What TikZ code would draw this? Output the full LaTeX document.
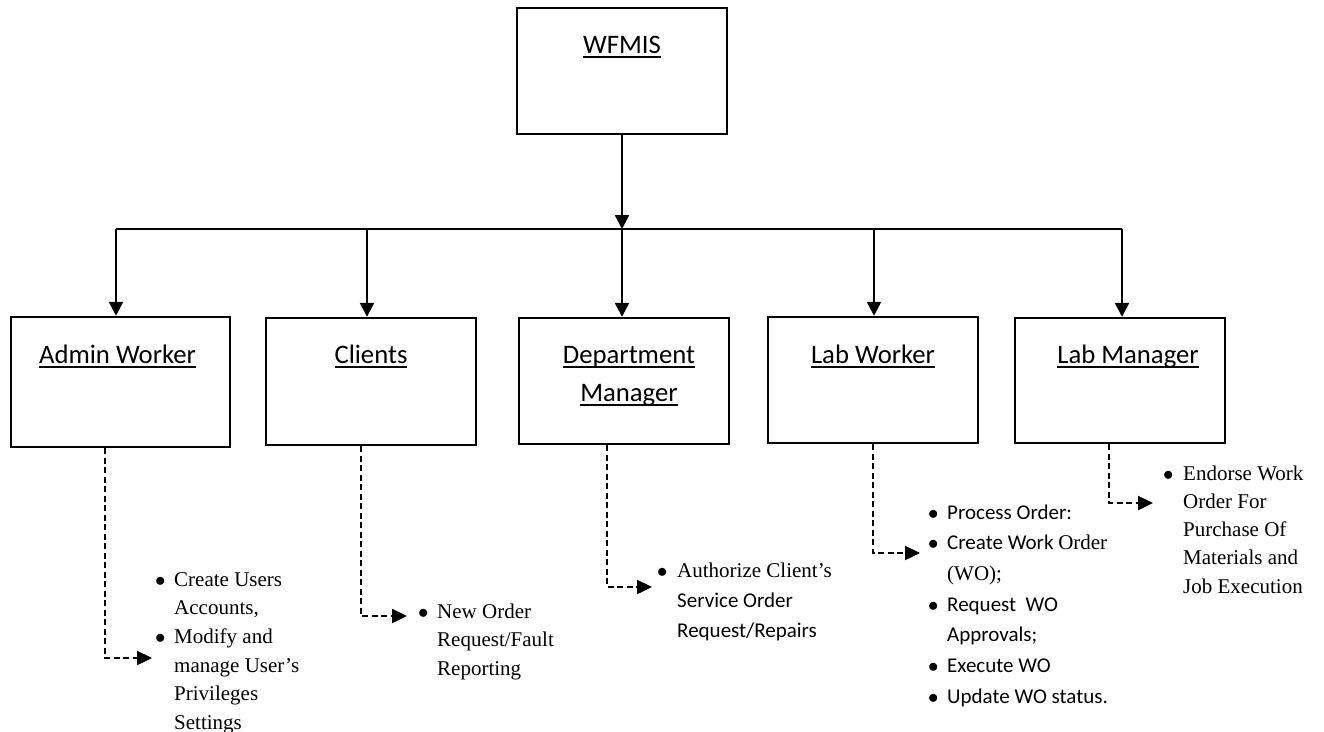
\documentclass[tikz,border=0pt]{standalone}
\usepackage{fontspec}
\setmainfont{Liberation Serif}
\newfontfamily\calib{Carlito}
\usetikzlibrary{arrows.meta}

% underline at a fixed depth below the baseline
\newcommand\ulx[1]{\setbox0\hbox{#1}\rlap{\rule[-0.17em]{\wd0}{0.06em}}\box0}
% bullet centred in a box of the given width (pt)
\newcommand\bl[1]{\makebox[#1pt][c]{$\bullet$}}

\tikzset{
  box/.style={draw, line width=2.4pt, rectangle, inner sep=0pt},
  lbl/.style={inner sep=0pt, anchor=base, font=\calib\fontsize{26.7}{32}\selectfont},
  conn/.style={line width=2.4pt, -{Triangle[length=14pt,width=14pt]}},
  bar/.style={line width=2.4pt},
  dconn/.style={line width=2.4pt, dash pattern=on 6pt off 3.5pt, -{Triangle[length=15pt,width=14pt]}},
  itemlist/.style={inner sep=0pt, anchor=base west},
}

\begin{document}
\begin{tikzpicture}[x=1pt, y=-1pt]
\useasboundingbox (0,0) rectangle (1324,731);
\fill[white] (0,0) rectangle (1324,731);

% boxes
\node[box, minimum width=210pt, minimum height=126pt] (wfmis)   at (622,71)    {};
\node[box, minimum width=219pt, minimum height=130pt] (admin)   at (120.5,382) {};
\node[box, minimum width=210pt, minimum height=127pt] (clients) at (371,381.5) {};
\node[box, minimum width=210pt, minimum height=126pt] (dept)    at (624,381)   {};
\node[box, minimum width=210pt, minimum height=126pt] (labw)    at (873,380)   {};
\node[box, minimum width=210pt, minimum height=125pt] (labm)    at (1120,380.5){};

% box titles
\node[lbl] (wfmislbl)  at (622,53)    {\ulx{WFMIS}};
\node[lbl] (adminlbl)  at (117.5,363) {\ulx{Admin Worker}};
\node[lbl] (clilbl)    at (371,363)   {\ulx{Clients}};
\node[lbl] (deptlbla)  at (629,363)   {\ulx{Department}};
\node[lbl] (deptlblb)  at (629,401)   {\ulx{Manager}};
\node[lbl] (labwlbl)   at (873,363)   {\ulx{Lab Worker}};
\node[lbl] (labmlbl)   at (1128,363)  {\ulx{Lab Manager}};

% distribution bar
\coordinate (hub)  at (622,229);
\coordinate (barA) at (116,229);
\coordinate (barB) at (367,229);
\coordinate (barD) at (874,229);
\coordinate (barE) at (1122,229);
\draw[bar] (barA) -- (barE);
\draw[conn] (wfmis.south) -- (hub);
\draw[conn] (barA) -- (barA |- admin.north);
\draw[conn] (barB) -- (barB |- clients.north);
\draw[conn] (hub)  -- (hub |- dept.north);
\draw[conn] (barD) -- (barD |- labw.north);
\draw[conn] (barE) -- (barE |- labm.north);

% task lists
\node[itemlist, font=\fontsize{21}{28.7}\selectfont] (admlist) at (146,586) {%
\begin{tabular}[t]{@{}l@{}l@{}}
\bl{28} & Create Users\\
 & Accounts,\\
\bl{28} & Modify and\\
 & manage User’s\\
 & Privileges\\
 & Settings
\end{tabular}};

\node[itemlist, font=\fontsize{21}{28.5}\selectfont] (clilist) at (409,618) {%
\begin{tabular}[t]{@{}l@{}l@{}}
\bl{28} & New Order\\
 & Request/Fault\\
 & Reporting
\end{tabular}};

\node[itemlist, font=\fontsize{21}{30}\selectfont] (deptlist) at (647,577) {%
\begin{tabular}[t]{@{}l@{}l@{}}
\bl{30} & Authorize Client’s\\
 & {\calib Service Order}\\
 & {\calib Request/Repairs}
\end{tabular}};

\node[itemlist, font=\calib\fontsize{21}{30.7}\selectfont] (labwlist) at (919,519) {%
\begin{tabular}[t]{@{}l@{}l@{}}
\bl{28} & Process Order:\\
\bl{28} & Create Work {\rmfamily Order}\\
 & {\rmfamily (WO);}\\
\bl{28} & Request~ WO\\
 & Approvals;\\
\bl{28} & Execute WO\\
\bl{28} & Update WO status.
\end{tabular}};

\node[itemlist, font=\fontsize{21}{28.3}\selectfont] (labmlist) at (1153,480) {%
\begin{tabular}[t]{@{}l@{}l@{}}
\bl{30} & Endorse Work\\
 & Order For\\
 & Purchase Of\\
 & Materials and\\
 & Job Execution
\end{tabular}};

% dashed task links
\coordinate (admtip)  at (152,658);
\coordinate (clitip)  at (407,616);
\coordinate (depttip) at (652,587);
\coordinate (labwtip) at (920,553);
\coordinate (labmtip) at (1153,503);
\draw[dconn] ([xshift=-15.5pt]admin.south) |- (admtip);
\draw[dconn] ([xshift=-10pt]clients.south) |- (clitip);
\draw[dconn] ([xshift=-17pt]dept.south) |- (depttip);
\draw[dconn] (labw.south) |- (labwtip);
\draw[dconn] ([xshift=-11pt]labm.south) |- (labmtip);
\end{tikzpicture}
\end{document}
